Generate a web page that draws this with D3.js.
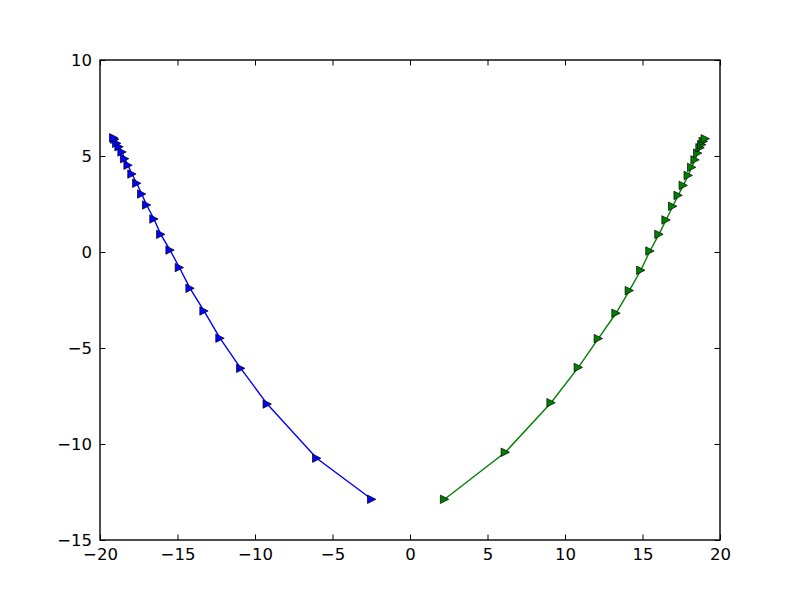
<!DOCTYPE html>
<html>
<head>
<meta charset="utf-8">
<script src="https://cdn.jsdelivr.net/npm/d3@7"></script>
<style>
  body { margin: 0; background: #fff; }
  text { font-family: "DejaVu Sans", sans-serif; }
</style>
</head>
<body>
<div id="chart-area"></div>
<script>
// values
const blueX = [-2.47, -6.02, -9.21, -10.92, -12.26, -13.29, -14.19, -14.88, -15.48, -16.08, -16.52,
  -16.99, -17.31, -17.63, -17.94, -18.19, -18.41, -18.58, -18.77, -18.92, -19.05, -19.12];
const blueY = [-12.88, -10.74, -7.92, -6.06, -4.49, -3.07, -1.89, -0.81, 0.10, 0.92, 1.72,
  2.45, 3.02, 3.58, 4.06, 4.52, 4.86, 5.21, 5.48, 5.66, 5.87, 5.95];
const greenX = [2.23, 6.15, 9.10, 10.86, 12.15, 13.29, 14.15, 14.89, 15.48, 16.06, 16.52,
  16.95, 17.30, 17.63, 17.95, 18.17, 18.39, 18.56, 18.71, 18.82, 18.92, 19.05];
const greenY = [-12.88, -10.43, -7.85, -6.01, -4.51, -3.19, -2.01, -0.95, 0.05, 0.92, 1.67,
  2.38, 2.95, 3.47, 3.99, 4.41, 4.80, 5.15, 5.43, 5.59, 5.76, 5.90];
const xTicks = [-20, -15, -10, -5, 0, 5, 10, 15, 20];
const yTicks = [-15, -10, -5, 0, 5, 10];

const margin = { top: 60, right: 80, bottom: 60, left: 100 };
const widthSvg = 800;
const heightSvg = 600;
const widthChart = widthSvg - margin.left - margin.right;
const heightChart = heightSvg - margin.top - margin.bottom;

const scaleX = d3.scaleLinear().domain([-20, 20]).range([0, widthChart]);
const scaleY = d3.scaleLinear().domain([-15, 10]).range([heightChart, 0]);

const svg = d3.select('#chart-area').append('svg')
  .attr('width', widthSvg)
  .attr('height', heightSvg);

const chart = svg.append('g')
  .attr('transform', `translate(${margin.left}, ${margin.top})`);

const fmt = d => d < 0 ? '\u2212' + Math.abs(d) : String(d);
const tick = 5.5;

// ticks on all four sides, pointing inward
const axisBottom = d3.axisBottom(scaleX).tickValues(xTicks).tickFormat(fmt).tickSizeInner(-tick).tickSizeOuter(0).tickPadding(8);
const axisTop = d3.axisTop(scaleX).tickValues(xTicks).tickFormat('').tickSizeInner(-tick).tickSizeOuter(0);
const axisLeft = d3.axisLeft(scaleY).tickValues(yTicks).tickFormat(fmt).tickSizeInner(-tick).tickSizeOuter(0).tickPadding(8);
const axisRight = d3.axisRight(scaleY).tickValues(yTicks).tickFormat('').tickSizeInner(-tick).tickSizeOuter(0);

const groups = [
  chart.append('g').attr('transform', `translate(0, ${heightChart})`).call(axisBottom),
  chart.append('g').call(axisTop),
  chart.append('g').call(axisLeft),
  chart.append('g').attr('transform', `translate(${widthChart}, 0)`).call(axisRight),
];
groups.forEach(g => {
  g.select('.domain').remove();
  g.selectAll('line').attr('stroke', '#000').attr('stroke-width', 1);
  g.selectAll('text').attr('font-size', '16.5px').attr('fill', '#000')
    .attr('font-family', '"DejaVu Sans", sans-serif');
});

const series = [
  { xs: blueX, ys: blueY, color: '#0000ff' },
  { xs: greenX, ys: greenY, color: '#008000' },
];

const line = d3.line().x(d => scaleX(d[0])).y(d => scaleY(d[1]));
const r = 4.2;
const tri = `M${r},0L${-r},${-r}L${-r},${r}Z`;

series.forEach(s => {
  const pts = s.xs.map((x, i) => [x, s.ys[i]]);
  chart.append('path')
    .attr('d', line(pts))
    .attr('fill', 'none')
    .attr('stroke', s.color)
    .attr('stroke-width', 1.4);
  chart.selectAll(null)
    .data(pts)
    .enter()
    .append('path')
      .attr('d', tri)
      .attr('transform', d => `translate(${scaleX(d[0])}, ${scaleY(d[1])})`)
      .attr('fill', s.color)
      .attr('stroke', '#000')
      .attr('stroke-width', 0.7);
});

// frame
chart.append('rect')
  .attr('width', widthChart)
  .attr('height', heightChart)
  .attr('fill', 'none')
  .attr('stroke', '#000')
  .attr('stroke-width', 1.4);
</script>
</body>
</html>
